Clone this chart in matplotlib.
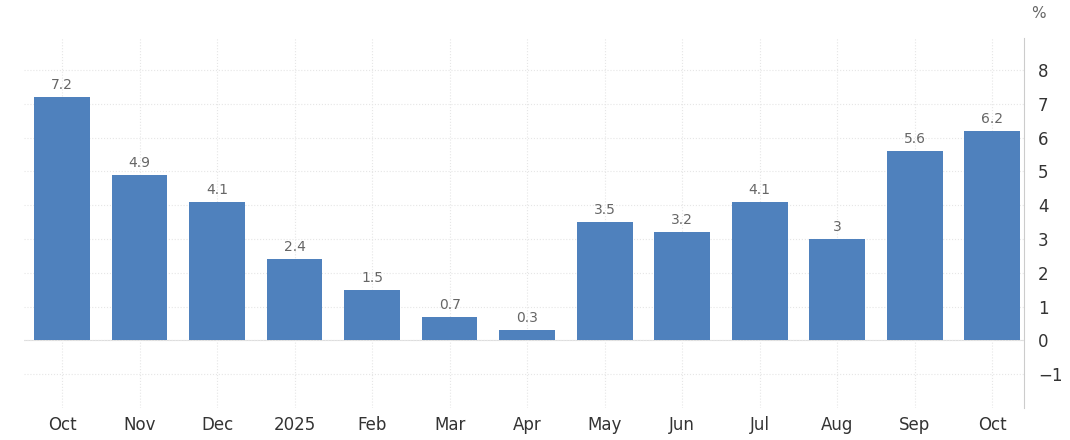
import matplotlib.pyplot as plt

labels = ["Oct", "Nov", "Dec", "2025", "Feb", "Mar", "Apr", "May", "Jun", "Jul", "Aug", "Sep", "Oct"]
values = [7.2, 4.9, 4.1, 2.4, 1.5, 0.7, 0.3, 3.5, 3.2, 4.1, 3, 5.6, 6.2]

fig = plt.figure(figsize=(10.7, 4.4), dpi=100)
ax = fig.add_axes([24 / 1070, 32 / 440, 1000 / 1070, 370 / 440])

x = list(range(len(values)))
ax.bar(x, values, width=0.72, color="#4f81bd", zorder=3)
for xi, v in zip(x, values):
    ax.text(xi, v + 0.15, f"{v:g}", ha="center", va="bottom", fontsize=10, color="#666666")

ax.set_xlim(-0.49, 12.41)
ax.set_ylim(-2, 8.95)
ax.set_xticks(x)
ax.set_xticklabels(labels, fontsize=12, color="#333333")
ax.set_yticks(range(-1, 9))
ax.yaxis.tick_right()
ax.tick_params(axis="y", labelsize=12, colors="#333333", length=0, pad=10)
ax.tick_params(axis="x", length=0, pad=6)
ax.grid(True, color="#e6e6e6", linestyle=":", linewidth=0.8, zorder=0)
for s in ["top", "left", "bottom"]:
    ax.spines[s].set_visible(False)
ax.spines["right"].set_color("#cccccc")
ax.axhline(0, color="#dddddd", linewidth=0.8, zorder=1)
fig.text(1038 / 1070, 1 - 14 / 440, "%", fontsize=11, color="#666666", ha="center", va="center")

fig.savefig("out.png", dpi=100)
